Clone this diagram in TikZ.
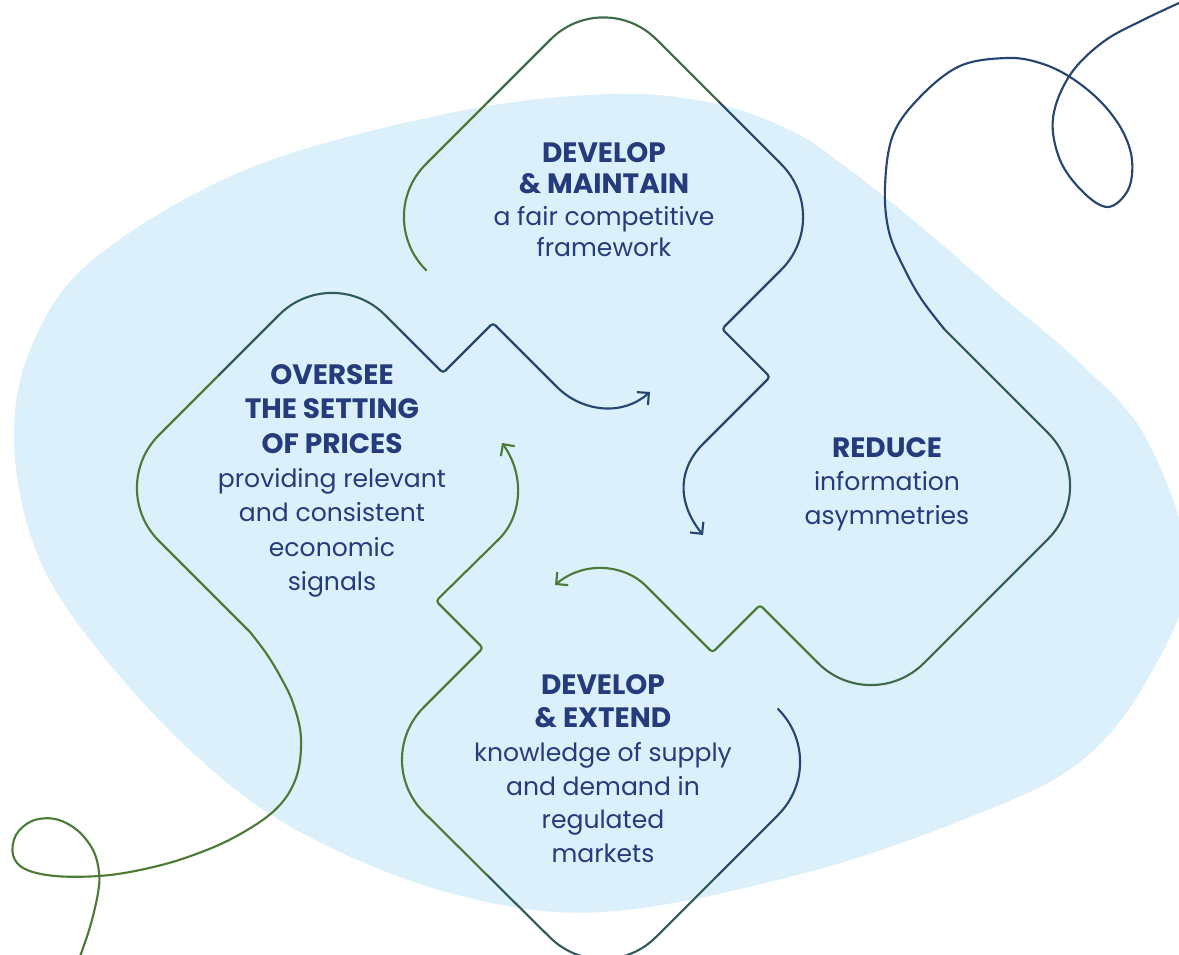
\documentclass[tikz,border=0pt]{standalone}
\usepackage{fontspec}
\setmainfont{Poppins}
\usetikzlibrary{arrows.meta}
\definecolor{blobfill}{HTML}{DCF0FB}
\definecolor{txt}{HTML}{263B7B}
\definecolor{lgreen}{HTML}{4B7B34}
\definecolor{lmoss}{HTML}{3F6B48}
\definecolor{lteal}{HTML}{305A5C}
\definecolor{lnavy}{HTML}{26456F}
\tikzset{wave/.style={line width=1.6pt, line cap=round, line join=round, rounded corners=56pt},
         curl/.style={line width=1.6pt, line cap=round, line join=round},
         notch/.style={line width=1.6pt, line cap=round, rounded corners=2.5pt},
         tip/.style={-{Straight Barb[length=6.4pt,width=12.8pt]}},
         goal/.style={align=center, text=txt, inner sep=0pt, anchor=north,
                      font=\fontsize{18.8pt}{25.2pt}\selectfont}
}
\newcommand{\hd}[1]{{\fontsize{21pt}{25.2pt}\selectfont\bfseries #1}}

\begin{document}
\begin{tikzpicture}[x=0.75pt,y=-0.75pt]
  \useasboundingbox (0,0) rectangle (1179,955);
  \fill[blobfill] plot[smooth cycle, tension=0.6] coordinates {(14,440) (32,345) (95,258) (250,168)
    (455,112) (610,94) (712,103) (790,130) (850,170) (925,230) (1000,295) (1080,363) (1147,440)
    (1188,570) (1147,680) (1080,762) (975,815) (805,873) (603,912) (450,893) (300,832) (193,753)
    (90,640) (35,548)};

  % top
  \draw[wave, lgreen] (426,270) -- (373,217) -- (488,102);
  \draw[wave, lmoss] (488,102) -- (603.5,-13.5) -- (719,102);
  \draw[wave, lnavy] (719,102) -- (834,217) -- (778,273);
  \draw[notch, lnavy, tip] (778,273) -- (722,329) -- (770,377) -- (705,442)
    .. controls (680,467) and (675,500) .. (703,535);

  % right
  \draw[curl, lnavy] plot[smooth, tension=0.6] coordinates {(1190,-2) (1143,20) (1103,42) (1070,75)
    (1053,118) (1060,160) (1083,192) (1108,207) (1128,190) (1132,160) (1122,130) (1100,101)
    (1070,77) (1040,63) (1007,58) (960,66) (920,97) (893,135) (885,187) (889,232) (905,270)
    (922,300) (945,330)};
  \draw[wave, lteal] (945,330) -- (1101,486) -- (986,601);
  \draw[wave, lmoss] (986,601) -- (871,716) -- (815,660);
  \draw[notch, lgreen, tip] (815,660) -- (760,605) -- (712.5,652.5) -- (648,588)
    .. controls (625,565) and (585,560) .. (555,585);

  % bottom
  \draw[wave, lnavy] (778,709) -- (831,762) -- (717,876);
  \draw[wave, lteal] (717,876) -- (603,990) -- (487,875);
  \draw[wave, lgreen] (487,875) -- (371,760) -- (427,704);
  \draw[notch, lgreen, tip] (427,704) -- (483,648) -- (436,601) -- (497,541)
    .. controls (522,516) and (525,475) .. (502,443);

  % left
  \draw[curl, lgreen] plot[smooth, tension=0.6] coordinates {(78,962) (90,927) (98,893) (99,872)
    (93,850) (77,830) (55,819) (32,821) (16,835) (13,855) (25,869) (55,876) (99,876) (140,870)
    (185,858) (233,838) (275,810) (296,778) (301,738) (293,703) (280,676) (266,653) (250,632)};
  \draw[wave, lgreen] (250,632) -- (106,488) -- (219,375);
  \draw[wave, lteal] (219,375) -- (332,262) -- (400,330);
  \draw[notch, lnavy, tip] (400,330) -- (443,373) -- (493,323) -- (555,385)
    .. controls (580,410) and (620,418) .. (650,392);

  \node[goal, font=\fontsize{18.8pt}{23.6pt}\selectfont] (maintain) at (604,142)
    {\hd{DEVELOP}\\\hd{\& MAINTAIN}\\a fair competitive\\framework};
  \node[goal, font=\fontsize{18.8pt}{25.8pt}\selectfont] (prices) at (332,364)
    {\hd{OVERSEE}\\\hd{THE SETTING}\\\hd{OF PRICES}\\providing relevant\\and consistent\\economic\\signals};
  \node[goal] (reduce) at (887,437) {\hd{REDUCE}\\information\\asymmetries};
  \node[goal] (extend) at (603,674)
    {\hd{DEVELOP}\\\hd{\& EXTEND}\\knowledge of supply\\and demand in\\regulated\\markets};
\end{tikzpicture}
\end{document}
